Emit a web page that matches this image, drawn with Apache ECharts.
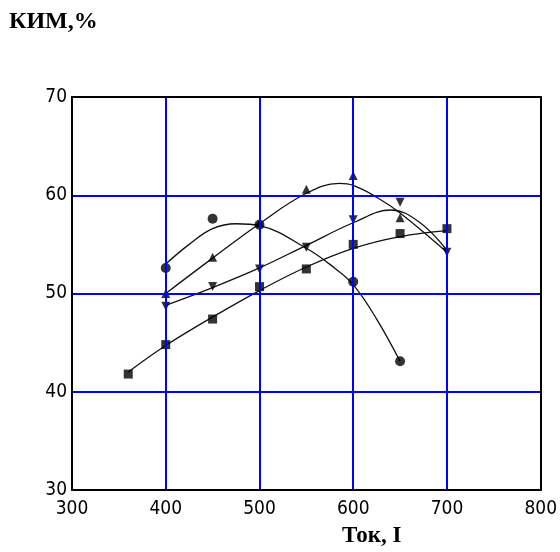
<!DOCTYPE html>
<html>
<head>
<meta charset="utf-8">
<script src="https://cdn.jsdelivr.net/npm/echarts@6/dist/echarts.min.js"></script>
<style>html,body{margin:0;padding:0;background:#fff}#c{width:560px;height:552px}</style>
</head>
<body>
<div id="c"></div>
<script>
// X axis ticks / Y axis ticks
const xTicks = [300, 400, 500, 600, 700, 800];
const yTicks = [30, 40, 50, 60, 70];

// Series 1 (filled circles): measured points and fitted curve
const circlePts = [[400, 52.6], [450, 57.6], [500, 57.0], [600, 51.2], [650, 43.1]];
const circleCurve = [[400, 53.0], [425, 55.0], [450, 56.6], [475, 57.1], [500, 56.9], [550, 54.6], [580, 52.6], [600, 50.9], [625, 47.4], [650, 43.1]];

// Series 2 (triangles up)
const triUpPts = [[400, 50.0], [450, 53.7], [500, 57.2], [550, 60.6], [600, 62.0], [650, 57.7]];
const triUpCurve = [[400, 50.0], [450, 53.6], [500, 57.1], [550, 60.2], [585, 61.2], [600, 61.0], [625, 59.8], [650, 58.2], [700, 54.2]];

// Series 3 (triangles down)
const triDownPts = [[400, 48.7], [450, 50.7], [500, 52.5], [550, 54.7], [600, 57.5], [650, 59.3], [700, 54.2]];
const triDownCurve = [[400, 48.8], [450, 50.6], [500, 52.6], [550, 54.9], [600, 57.2], [640, 58.5], [670, 57.3], [700, 54.4]];

// Series 4 (squares)
const squarePts = [[360, 41.8], [400, 44.8], [450, 47.4], [500, 50.7], [550, 52.5], [600, 55.0], [650, 56.1], [700, 56.6]];
const squareCurve = [[360, 42.0], [400, 44.7], [450, 47.6], [500, 50.3], [550, 52.7], [600, 54.6], [650, 55.8], [700, 56.4]];

const chart = echarts.init(document.getElementById('c'));
const lineStyle = { color: '#111', width: 1.3 };
function curve(data) {
  return { type: 'line', data: data, smooth: 0.4, showSymbol: false, symbol: 'none', lineStyle: lineStyle, z: 3, silent: true };
}
function pts(data, symbol, size) {
  return { type: 'scatter', data: data, symbol: symbol, symbolSize: size, itemStyle: { color: '#000' }, z: 4, silent: true };
}
const tickFont = { fontFamily: '"Liberation Sans Narrow", "DejaVu Sans Condensed", sans-serif', fontSize: 19, color: '#000' };
const frameAxis = { show: true, lineStyle: { color: '#000', width: 2 } };
chart.setOption({
  animation: false,
  grid: { left: 72, right: 15, top: 97, bottom: 62 },
  xAxis: [{
    type: 'value', min: xTicks[0], max: xTicks[xTicks.length - 1], interval: 100,
    axisLine: frameAxis, axisTick: { show: false }, z: 5,
    axisLabel: Object.assign({ margin: 10, formatter: v => xTicks.includes(v) ? String(v) : '' }, tickFont),
    splitLine: { show: true, lineStyle: { color: '#0000ff', width: 2 } }
  }, {
    type: 'value', position: 'top', min: xTicks[0], max: xTicks[xTicks.length - 1], interval: 100,
    axisLine: frameAxis, axisTick: { show: false }, axisLabel: { show: false }, splitLine: { show: false }, z: 5
  }],
  yAxis: [{
    type: 'value', min: yTicks[0], max: yTicks[yTicks.length - 1], interval: 10,
    axisLine: frameAxis, axisTick: { show: false }, z: 5,
    axisLabel: Object.assign({ margin: 5, formatter: v => yTicks.includes(v) ? String(v) : '' }, tickFont),
    splitLine: { show: true, lineStyle: { color: '#0000ff', width: 2 } }
  }, {
    type: 'value', position: 'right', min: yTicks[0], max: yTicks[yTicks.length - 1], interval: 10,
    axisLine: frameAxis, axisTick: { show: false }, axisLabel: { show: false }, splitLine: { show: false }, z: 5
  }],
  graphic: [
    { type: 'text', left: 9, top: 10, style: { text: 'КИМ,%', font: 'bold 24px "Liberation Serif", serif', fill: '#000' } },
    { type: 'text', left: 342, top: 525, style: { text: 'Ток, I', font: 'bold 23px "Liberation Serif", serif', fill: '#000' } }
  ],
  series: [
    curve(circleCurve), pts(circlePts, 'circle', 10),
    curve(triUpCurve), pts(triUpPts, 'triangle', 9),
    curve(triDownCurve), pts(triDownPts, 'path://M0,0L10,0L5,10Z', 9),
    curve(squareCurve), pts(squarePts, 'rect', 9)
  ]
});
</script>
</body>
</html>
